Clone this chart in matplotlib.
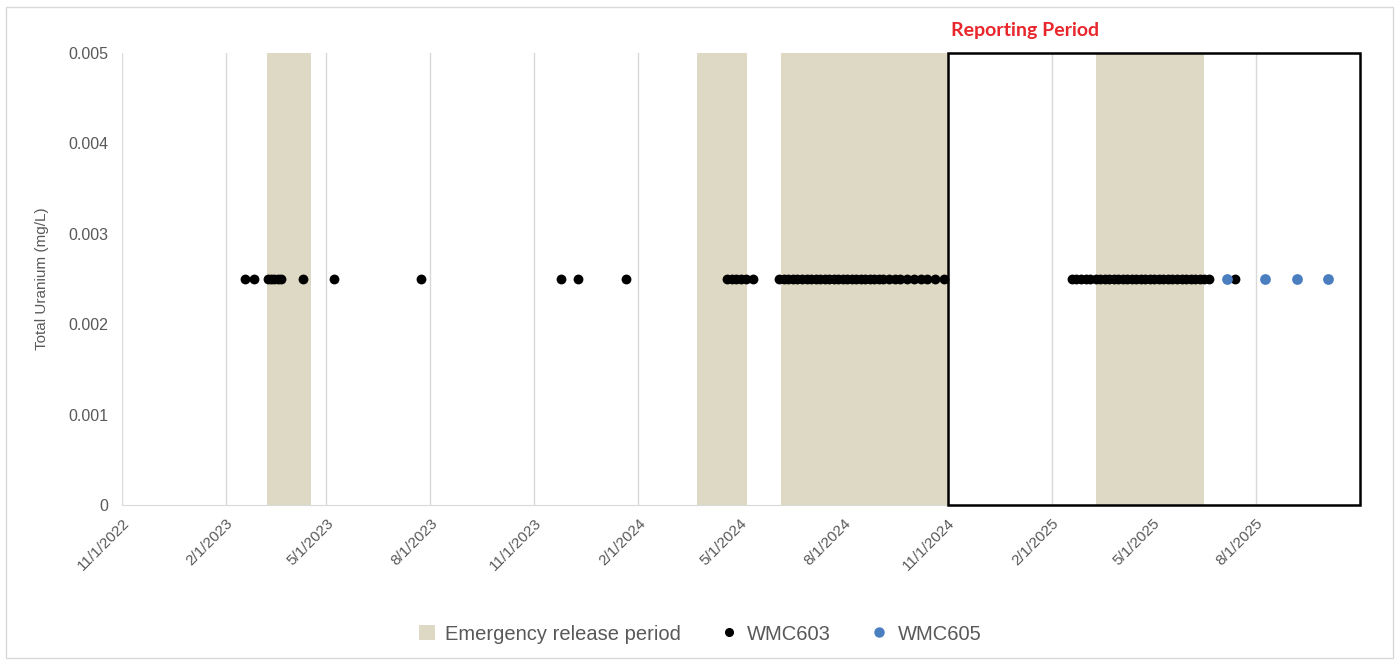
import matplotlib
matplotlib.use('agg')
import matplotlib.pyplot as plt
import matplotlib.dates as mdates
from matplotlib.patches import Rectangle, Patch
from matplotlib.lines import Line2D
import datetime as dt

# sample dates (mg/L values are all at the reporting limit)
wmc603_dates = [
    '2023-02-18', '2023-02-26', '2023-03-10', '2023-03-13', '2023-03-16', '2023-03-19',
    '2023-03-22', '2023-04-10', '2023-05-08', '2023-07-24',
    '2023-11-25', '2023-12-10', '2024-01-21',
    '2024-04-20', '2024-04-24', '2024-04-28', '2024-05-02', '2024-05-06', '2024-05-13',
    '2024-06-05', '2024-06-09', '2024-06-13', '2024-06-17', '2024-06-21', '2024-06-25',
    '2024-06-29', '2024-07-03', '2024-07-07', '2024-07-11', '2024-07-15', '2024-07-19',
    '2024-07-23', '2024-07-27', '2024-07-31', '2024-08-04', '2024-08-08', '2024-08-12',
    '2024-08-16', '2024-08-20', '2024-08-24', '2024-08-28', '2024-09-01', '2024-09-05',
    '2024-09-10', '2024-09-15', '2024-09-20', '2024-09-26', '2024-10-02', '2024-10-08',
    '2024-10-14', '2024-10-21', '2024-10-29',
    '2025-02-19', '2025-02-23', '2025-02-27', '2025-03-03', '2025-03-07',
    '2025-03-12', '2025-03-16', '2025-03-20', '2025-03-24', '2025-03-28', '2025-04-01',
    '2025-04-05', '2025-04-09', '2025-04-13', '2025-04-17', '2025-04-21', '2025-04-25',
    '2025-04-29', '2025-05-03', '2025-05-07', '2025-05-11', '2025-05-15', '2025-05-19',
    '2025-05-23', '2025-05-27', '2025-05-31', '2025-06-04', '2025-06-08', '2025-06-12',
    '2025-06-16', '2025-06-20', '2025-07-13',
]
wmc603_vals = [0.0025] * len(wmc603_dates)

wmc605_dates = ['2025-07-06', '2025-08-09', '2025-09-06', '2025-10-04']
wmc605_vals = [0.0025, 0.0025, 0.0025, 0.0025]

release_starts = ['2023-03-09', '2024-03-24', '2024-06-06', '2025-03-12']
release_ends = ['2023-04-17', '2024-05-07', '2024-11-01', '2025-06-16']

report_start = '2024-11-01'
x_start = '2022-11-01'
x_end = '2025-11-01'

tick_dates = ['2022-11-01', '2023-02-01', '2023-05-01', '2023-08-01', '2023-11-01',
              '2024-02-01', '2024-05-01', '2024-08-01', '2024-11-01', '2025-02-01',
              '2025-05-01', '2025-08-01']
y_ticks = [0, 0.001, 0.002, 0.003, 0.004, 0.005]
y_labels = ['0', '0.001', '0.002', '0.003', '0.004', '0.005']

def d(s):
    return dt.datetime.strptime(s, '%Y-%m-%d')

plt.rcParams['font.family'] = ['Liberation Sans', 'DejaVu Sans']
grey = '#595959'
shade = '#ddd9c4'
blue = '#4a7ebf'

fig = plt.figure(figsize=(14, 6.64), dpi=100)
fig.patches.append(Rectangle((6/1400, 6/664), 1387/1400, 651/664, transform=fig.transFigure,
                             fill=False, edgecolor='#d9d9d9', linewidth=1))
ax = fig.add_axes([122/1400, 159/664, 1238/1400, 452/664])

for s, e in zip(release_starts, release_ends):
    ax.axvspan(d(s), d(e), color=shade, lw=0, zorder=1)

ax.scatter([d(s) for s in wmc603_dates], wmc603_vals, s=50, color='black', zorder=3, lw=0)
ax.scatter([d(s) for s in wmc605_dates], wmc605_vals, s=60, color=blue, zorder=4, lw=0)

x0 = mdates.date2num(d(report_start))
x1 = mdates.date2num(d(x_end))
ax.add_patch(Rectangle((x0, 0), x1 - x0, 0.005, fill=False, edgecolor='black',
                       linewidth=1.8, zorder=5, clip_on=False))
ax.text(x0 + 3, 0.00525, 'Reporting Period', color='#e8262b', fontweight='bold',
        fontsize=14, family=['Lato', 'DejaVu Sans'], ha='left', va='center')

ax.set_xlim(d(x_start), d(x_end))
ax.set_ylim(0, 0.005)
ax.set_xticks([d(s) for s in tick_dates])
ax.set_xticklabels([f'{d(s).month}/{d(s).day}/{d(s).year}' for s in tick_dates],
                   rotation=45, ha='right', rotation_mode='anchor', color=grey, fontsize=11)
ax.set_yticks(y_ticks)
ax.set_yticklabels(y_labels, color=grey, fontsize=11.5)
ax.tick_params(axis='x', length=0, pad=8)
ax.tick_params(axis='y', length=0, pad=10)
ax.grid(axis='x', color='#d9d9d9', linewidth=1, zorder=0)
ax.set_axisbelow(True)
for sp in ['top', 'right', 'left']:
    ax.spines[sp].set_visible(False)
ax.spines['bottom'].set_color('#d9d9d9')
ax.set_ylabel('Total Uranium (mg/L)', color=grey, fontsize=11, labelpad=14)

handles = [Patch(facecolor=shade, edgecolor='none'),
           Line2D([], [], marker='o', color='black', ls='none', markersize=5.5),
           Line2D([], [], marker='o', color=blue, ls='none', markersize=6.5)]
fig.legend(handles, ['Emergency release period', 'WMC603', 'WMC605'], loc='center',
           bbox_to_anchor=(0.5, 30/664), ncol=3, frameon=False, fontsize=14.5,
           labelcolor=grey, handlelength=0.8, handletextpad=0.5, columnspacing=2.0)

fig.savefig('out.png', dpi=100)
